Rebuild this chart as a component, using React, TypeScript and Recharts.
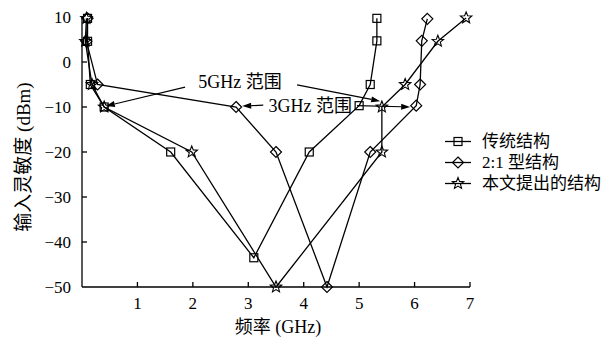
import React from 'react';
import { LineChart, Line, XAxis, YAxis, Legend, ReferenceLine, ReferenceDot, Label } from 'recharts';

// ---- data ----
const xTicks = [1, 2, 3, 4, 5, 6, 7];
const yTicks = [10, 0, -10, -20, -30, -40, -50];

const seriesNames = ['传统结构', '2:1 型结构', '本文提出的结构'];

const convX = [0.1, 0.1, 0.15, 0.4, 1.6, 3.1, 4.1, 5.0, 5.2, 5.32, 5.32];
const convY = [9.7, 4.6, -5, -10, -20, -43.5, -20, -9.7, -5, 4.7, 9.7];

const ratioX = [0.1, 0.08, 0.28, 2.78, 3.5, 4.42, 5.2, 6.03, 6.1, 6.13, 6.23];
const ratioY = [9.7, 4.6, -5, -10, -20, -50, -20, -9.7, -5, 4.7, 9.6];

const propX = [0.08, 0.06, 0.18, 0.4, 1.98, 3.5, 5.41, 5.41, 5.83, 6.42, 6.93];
const propY = [9.7, 4.6, -5, -10, -20, -50, -20, -10, -5, 4.6, 9.8];

// annotation texts (data coords of text centre)
const noteText = ['5GHz 范围', '3GHz 范围'];
const noteX = [2.85, 4.12];
const noteY = [-4.45, -9.6];

// arrows: [x1, y1, x2, y2] in data coordinates
const arrowX1 = [1.86, 3.88, 3.27, 4.96];
const arrowY1 = [-5.6, -5.1, -9.6, -9.7];
const arrowX2 = [0.43, 5.38, 2.89, 5.92];
const arrowY2 = [-9.8, -8.7, -9.8, -10];

const zip = (xs: number[], ys: number[]) => xs.map((x, i) => ({ x, y: ys[i] }));
const convData = zip(convX, convY);
const ratioData = zip(ratioX, ratioY);
const propData = zip(propX, propY);

const FONT = "'Liberation Serif', 'Noto Sans CJK SC', serif";
const SW = 1.3;

// ---- markers ----
const squareShape = (cx: number, cy: number, key?: any) => (
  <rect key={key} x={cx - 4} y={cy - 4} width={8} height={8} fill="none" stroke="#000" strokeWidth={1.2} />
);
const diamondShape = (cx: number, cy: number, key?: any) => (
  <polygon
    key={key}
    points={`${cx},${cy - 5.5} ${cx + 5.5},${cy} ${cx},${cy + 5.5} ${cx - 5.5},${cy}`}
    fill="none"
    stroke="#000"
    strokeWidth={1.2}
  />
);
const starShape = (cx: number, cy: number, key?: any) => {
  const pts: string[] = [];
  for (let i = 0; i < 10; i++) {
    const r = i % 2 === 0 ? 6 : 2.6;
    const a = -Math.PI / 2 + (i * Math.PI) / 5;
    pts.push(`${cx + r * Math.cos(a)},${cy + r * Math.sin(a)}`);
  }
  return <polygon key={key} points={pts.join(' ')} fill="none" stroke="#000" strokeWidth={1.1} />;
};
const shapes = [squareShape, diamondShape, starShape];

const makeDot = (fn: any) => (p: any) => {
  if (p.cx == null || p.cy == null) return <g key={p.index} />;
  return fn(p.cx, p.cy, p.index);
};

// ---- ticks ----
const XTick = (p: any) => {
  const { x, y, payload } = p;
  return (
    <g>
      <line x1={x} x2={x} y1={y} y2={y - 5} stroke="#000" strokeWidth={SW} />
      <text x={x} y={y + 16} textAnchor="middle" dominantBaseline="central" fontFamily={FONT} fontSize={17} fill="#000">
        {payload.value}
      </text>
    </g>
  );
};
const YTick = (p: any) => {
  const { x, y, payload } = p;
  const v = payload.value;
  const label = v < 0 ? `\u2212${Math.abs(v)}` : `${v}`;
  return (
    <g>
      {v !== 10 && v !== -50 ? <line x1={x} x2={x + 5} y1={y} y2={y} stroke="#000" strokeWidth={SW} /> : null}
      <text x={x - 11} y={y} textAnchor="end" dominantBaseline="central" fontFamily={FONT} fontSize={17} fill="#000">
        {label}
      </text>
    </g>
  );
};

// ---- arrow shape ----
const arrowShape = (p: any) => {
  const { x1, y1, x2, y2 } = p;
  const ang = Math.atan2(y2 - y1, x2 - x1);
  const L = 9;
  const W = 3;
  const bx = x2 - L * Math.cos(ang);
  const by = y2 - L * Math.sin(ang);
  const nx = -Math.sin(ang);
  const ny = Math.cos(ang);
  return (
    <g>
      <line x1={x1} y1={y1} x2={bx} y2={by} stroke="#000" strokeWidth={1.2} />
      <polygon points={`${x2},${y2} ${bx + nx * W},${by + ny * W} ${bx - nx * W},${by - ny * W}`} fill="#000" />
    </g>
  );
};

// ---- legend ----
const renderLegend = () => (
  <div style={{ fontFamily: FONT, fontSize: 17, color: '#000', lineHeight: '21px' }}>
    {seriesNames.map((n, i) => (
      <div key={n} style={{ display: 'flex', alignItems: 'center', height: 21 }}>
        <svg width={30} height={21} style={{ flex: 'none' }}>
          <line x1={0} x2={26} y1={10.5} y2={10.5} stroke="#000" strokeWidth={SW} />
          {shapes[i](13, 10.5)}
        </svg>
        <span style={{ marginLeft: 7, whiteSpace: 'nowrap' }}>{n}</span>
      </div>
    ))}
  </div>
);

export default function App() {
  return (
    <div style={{ position: 'absolute', left: 0, top: 0, width: 613, height: 347, background: '#fff' }}>
      <LineChart width={613} height={347} margin={{ top: 17, right: 143, left: 0, bottom: 0 }}>
        <XAxis
          type="number"
          dataKey="x"
          domain={[0, 7]}
          ticks={xTicks}
          height={60}
          tickSize={0}
          tickMargin={0}
          tickLine={false}
          tick={<XTick />}
          axisLine={{ stroke: '#000', strokeWidth: SW }}
        >
          <Label
            content={(props: any) => {
              const vb = props.viewBox;
              return (
                <text x={vb.x + vb.width / 2 + 2} y={vb.y + 40} textAnchor="middle" dominantBaseline="central" fontFamily={FONT} fontSize={18} fill="#000">
                  频率 (GHz)
                </text>
              );
            }}
          />
        </XAxis>
        <YAxis
          type="number"
          dataKey="y"
          domain={[-50, 10]}
          ticks={yTicks}
          width={82}
          tickSize={0}
          tickMargin={0}
          tickLine={false}
          tick={<YTick />}
          axisLine={{ stroke: '#000', strokeWidth: SW }}
          interval={0}
        >
          <Label
            content={(props: any) => {
              const vb = props.viewBox;
              const cx = vb.x + 23;
              const cy = vb.y + vb.height / 2 + 5;
              return (
                <text x={cx} y={cy} transform={`rotate(-90 ${cx} ${cy})`} textAnchor="middle" dominantBaseline="central" fontFamily={FONT} fontSize={19} fill="#000">
                  输入灵敏度 (dBm)
                </text>
              );
            }}
          />
        </YAxis>
        <Legend
          layout="vertical"
          align="center"
          verticalAlign="middle"
          content={renderLegend}
          wrapperStyle={{ left: 445, top: 131, width: 168 }}
        />
        {arrowX1.map((x1, i) => (
          <ReferenceLine
            key={`a${i}`}
            segment={[
              { x: x1, y: arrowY1[i] },
              { x: arrowX2[i], y: arrowY2[i] },
            ]}
            ifOverflow="visible"
            shape={arrowShape}
          />
        ))}
        {noteText.map((t, i) => (
          <ReferenceDot
            key={`n${i}`}
            x={noteX[i]}
            y={noteY[i]}
            r={0}
            fill="none"
            stroke="none"
            ifOverflow="visible"
            label={{ value: t, position: 'center', fontFamily: FONT, fontSize: 18, fill: '#000' }}
          />
        ))}
        <Line data={convData} dataKey="y" name={seriesNames[0]} type="linear" stroke="#000" strokeWidth={SW} dot={makeDot(squareShape)} isAnimationActive={false} />
        <Line data={ratioData} dataKey="y" name={seriesNames[1]} type="linear" stroke="#000" strokeWidth={SW} dot={makeDot(diamondShape)} isAnimationActive={false} />
        <Line data={propData} dataKey="y" name={seriesNames[2]} type="linear" stroke="#000" strokeWidth={SW} dot={makeDot(starShape)} isAnimationActive={false} />
      </LineChart>
    </div>
  );
}
